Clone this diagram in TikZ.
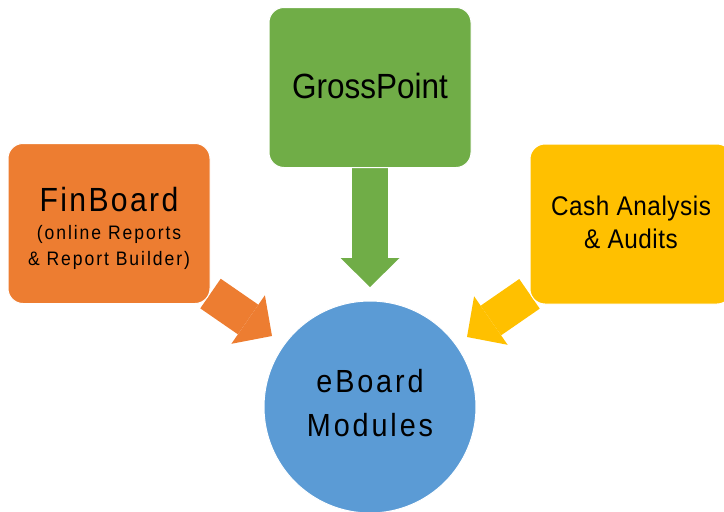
\documentclass[tikz,border=0pt]{standalone}
\usepackage{fontspec}
\setmainfont{Liberation Sans}[FakeStretch=0.9]
\usetikzlibrary{arrows.meta,backgrounds}

\definecolor{finorange}{HTML}{ED7D31}
\definecolor{grossgreen}{HTML}{70AD47}
\definecolor{cashyellow}{HTML}{FFC000}
\definecolor{hubblue}{HTML}{5B9BD5}

\tikzset{
  modbox/.style={rectangle, rounded corners=15pt, draw=white, line width=1pt,
    minimum width=202pt, minimum height=160pt, inner sep=0pt, align=center},
  hub/.style={circle, draw=white, line width=1pt, minimum size=212pt,
    inner sep=0pt, align=center},
  fatarrow/.style={line width=36pt,
    -{Triangle[length=29pt 0 0, width=59pt 0 0, line width=0pt 0 0]}}
}

\begin{document}
\begin{tikzpicture}[x=1pt, y=-1pt]

\newcommand\FONTAT[2]{\fontsize{#1}{#2}\selectfont}

\useasboundingbox (0,0) rectangle (724,512);

\node[modbox, fill=grossgreen] (gross) at (370, 87.5)
  [font=\FONTAT{35}{40}, text height=25pt, text depth=4pt] {GrossPoint};

\node[modbox, fill=finorange] (fin) at (109, 223.5)
  [font=\FONTAT{19.5}{26}\addfontfeature{LetterSpace=10},
   text height=87pt, text depth=4pt]
  {{\FONTAT{33.5}{40}\addfontfeature{LetterSpace=7}FinBoard}\\[2pt]
   (online Reports\hspace*{6pt}\\ \& Report Builder)};

\node[modbox, fill=cashyellow] (cash) at (631, 224)
  [font=\FONTAT{27}{33}\addfontfeature{LetterSpace=2},
   text height=52pt, text depth=4pt]
  {Cash Analysis\\ \& Audits};

\node[hub, fill=hubblue] (board) at (370, 407)
  [font=\FONTAT{32}{44}\addfontfeature{LetterSpace=9},
   text height=64pt, text depth=6pt]
  {eBoard\\ Modules};

%%

\coordinate (grossTip) at (370, 287);
\coordinate (finTip) at (272, 336);
\coordinate (cashTip) at (467, 337);

\begin{scope}[on background layer]
\draw[fatarrow, grossgreen] (gross) -- (grossTip);
\draw[fatarrow, finorange] (fin) -- (finTip);
\draw[fatarrow, cashyellow] (cash) -- (cashTip);
\end{scope}

\end{tikzpicture}
\end{document}
